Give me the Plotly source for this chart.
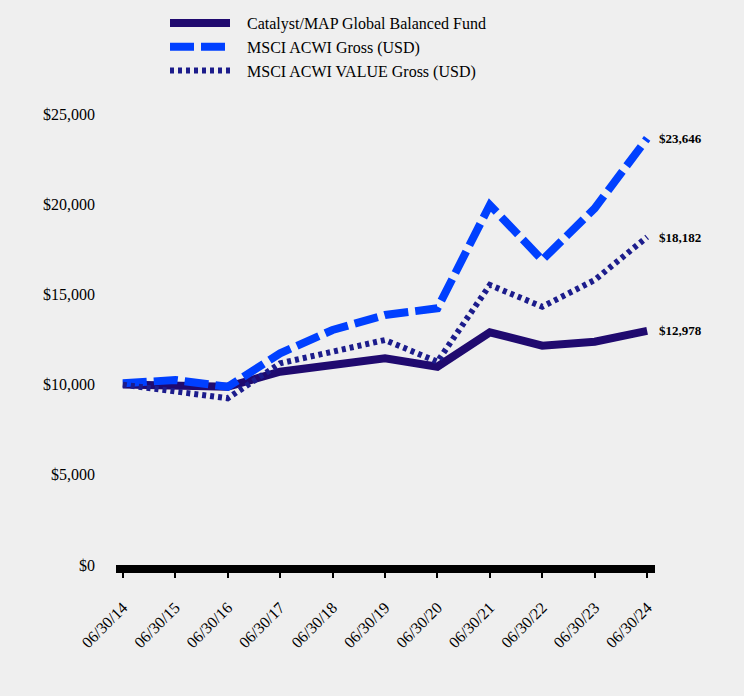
import plotly.graph_objects as go

dates = ["06/30/14", "06/30/15", "06/30/16", "06/30/17", "06/30/18", "06/30/19",
         "06/30/20", "06/30/21", "06/30/22", "06/30/23", "06/30/24"]
fund = [10000, 9920, 9880, 10716, 11086, 11455, 10993, 12898, 12159, 12380, 12978]
acwi = [10070, 10255, 9880, 11733, 13027, 13858, 14230, 19955, 16907, 19770, 23646]
acwi_value = [10000, 9600, 9240, 11180, 11825, 12472, 11270, 15521, 14318, 15798, 18182]
names = ["Catalyst/MAP Global Balanced Fund", "MSCI ACWI Gross (USD)", "MSCI ACWI VALUE Gross (USD)"]
y_ticks = [0, 5000, 10000, 15000, 20000, 25000]
y_tick_text = ["$0", "$5,000", "$10,000", "$15,000", "$20,000", "$25,000"]

FONT = "Liberation Serif, Times New Roman, serif"
x = list(range(len(dates)))
pad = "\u00a0\u00a0\u00a0"

fig = go.Figure()
fig.add_trace(go.Scatter(x=x, y=fund, name=pad + names[0], mode="lines",
                         line=dict(color="#200A6F", width=8)))
fig.add_trace(go.Scatter(x=x, y=acwi, name=pad + names[1], mode="lines",
                         line=dict(color="#0040FF", width=8, dash="24px,7px")))
fig.add_trace(go.Scatter(x=x, y=acwi_value, name=pad + names[2], mode="lines",
                         line=dict(color="#1C1C8C", width=6, dash="4px,4px")))

for series in (acwi, acwi_value, fund):
    fig.add_annotation(x=x[-1], y=series[-1], text=f"<b>${series[-1]:,}</b>",
                       showarrow=False, xanchor="left", xshift=10,
                       font=dict(family=FONT, size=13, color="black"))

fig.update_layout(
    width=744, height=696,
    margin=dict(l=116, r=89, t=114, b=131, autoexpand=False),
    paper_bgcolor="#EFEFEF", plot_bgcolor="#EFEFEF",
    font=dict(family=FONT, size=16, color="black"),
    showlegend=True,
    legend=dict(xref="container", yref="container", x=165 / 744, y=1 - 6 / 696,
                xanchor="left", yanchor="top",
                bgcolor="rgba(0,0,0,0)", font=dict(family=FONT, size=16),
                itemwidth=60, tracegroupgap=0),
    xaxis=dict(tickmode="array", tickvals=x, ticktext=dates, range=[-0.13, 10.15],
               tickangle=-45, showgrid=False, zeroline=False,
               showline=True, linecolor="black", linewidth=8,
               ticks="outside", ticklen=5, tickcolor="black", tickwidth=2,
               ticklabelstandoff=14, automargin=False,
               tickfont=dict(family=FONT, size=16)),
    yaxis=dict(tickmode="array", tickvals=y_ticks, ticktext=y_tick_text, range=[0, 25000],
               showgrid=False, zeroline=False, showline=False, automargin=False,
               ticklabelstandoff=20, tickfont=dict(family=FONT, size=16)),
)

fig.write_html("out.html", config={"displayModeBar": False},
               post_script="document.body.style.margin='0';")
